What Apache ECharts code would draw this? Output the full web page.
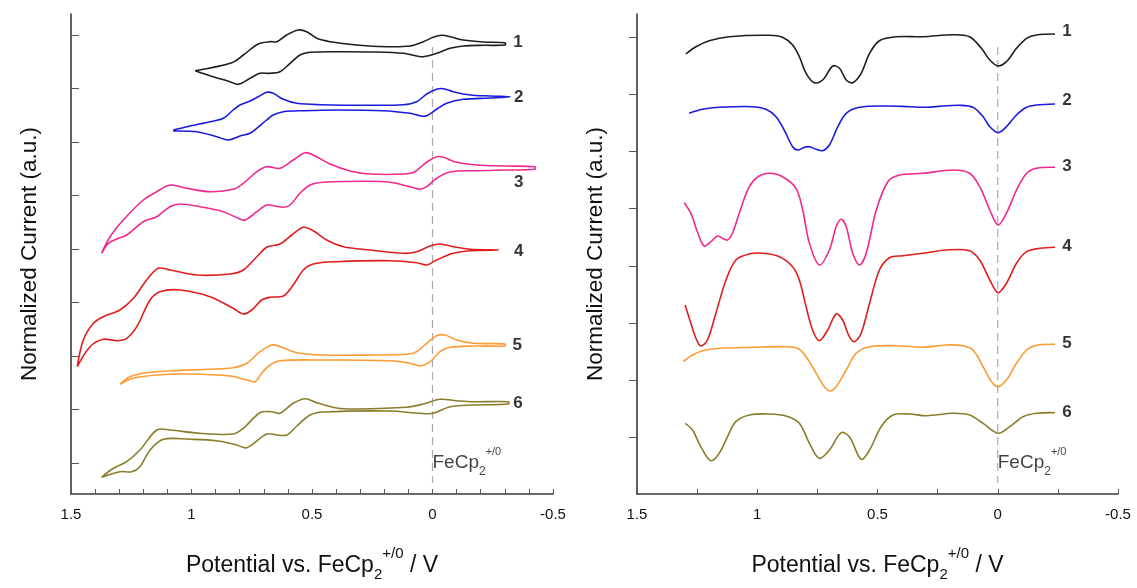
<!DOCTYPE html>
<html>
<head>
<meta charset="utf-8">
<script src="https://cdn.jsdelivr.net/npm/echarts@6/dist/echarts.min.js"></script>
<style>
  html, body { margin: 0; padding: 0; background: #fff; }
  #chart { width: 1137px; height: 588px; }
</style>
</head>
<body>
<div id="chart"></div>
<script>
// Cyclic voltammograms (potential in V vs FeCp2+/0, current in a.u., stacked with offsets).
// Each loop is listed in scan order: forward branch, then return branch.
const cv1 = [[0.985,423.3],[0.833,431.3],[0.785,439],[0.723,450],[0.674,452.3],[0.646,452.3],[0.605,459],[0.557,464],[0.522,462.3],[0.480,455.7],[0.425,452.3],[0.315,449],[0.190,447.3],[0.093,448],[0.038,452.3],[-0.003,456.7],[-0.038,458.7],[-0.073,457.3],[-0.128,454],[-0.211,452],[-0.301,451.3],
  [-0.301,449],[-0.211,448.7],[-0.128,448],[-0.073,445.7],[-0.017,440.7],[0.038,437.3],[0.066,438],[0.121,440.7],[0.232,442],[0.398,442.3],[0.508,441.7],[0.550,439],[0.591,430.7],[0.633,422.3],[0.674,420.7],[0.716,420.7],[0.757,415.7],[0.806,409.7],[0.840,412.3],[0.910,417.3],[0.985,423.3]];

const cv2 = [[1.076,364],[1.006,368],[0.923,372.3],[0.868,375.7],[0.827,384],[0.799,389],[0.757,393],[0.723,397.3],[0.688,401.7],[0.661,400.7],[0.619,394.7],[0.563,390.7],[0.467,389.3],[0.259,388.7],[0.121,389.3],[0.066,392.3],[0.024,400],[-0.017,404.7],[-0.045,405.3],[-0.086,402.3],[-0.156,399],[-0.239,398],[-0.322,397.3],
  [-0.239,396],[-0.128,394.7],[-0.059,390.7],[-0.017,384.7],[0.024,378.3],[0.045,378],[0.093,380.7],[0.204,383.3],[0.398,384],[0.536,383.3],[0.619,382.3],[0.661,379],[0.688,374],[0.729,365.7],[0.757,360.7],[0.799,358],[0.847,354],[0.895,357.3],[0.978,362.3],[1.076,363]];

const cv3 = [[1.373,240.7],[1.338,257.3],[1.283,274],[1.200,294],[1.144,302.3],[1.089,309],[1.020,305.7],[0.923,302.3],[0.827,304.7],[0.785,310.7],[0.729,322.3],[0.688,327.3],[0.633,325.7],[0.578,334],[0.529,341.3],[0.495,339],[0.425,330],[0.342,323],[0.259,320],[0.121,320],[0.073,322.3],[0.031,330.7],[-0.017,337.3],[-0.045,336.7],[-0.100,331.7],[-0.183,329],[-0.308,328],[-0.425,327.3],
  [-0.425,324.7],[-0.308,324],[-0.183,323.3],[-0.073,322],[-0.017,315.7],[0.024,307.3],[0.052,304.7],[0.093,307.3],[0.176,311.7],[0.259,312.7],[0.453,311.7],[0.508,309],[0.550,300.7],[0.591,289],[0.619,286.7],[0.654,288],[0.688,289],[0.729,282.3],[0.778,274],[0.806,275.7],[0.868,282.3],[0.965,287.3],[1.048,290],[1.089,287.3],[1.144,277.3],[1.200,272.3],[1.269,259],[1.310,255],[1.345,250.7],[1.373,240.7]];

const cv4 = [[1.474,127.3],[1.449,154],[1.407,170.7],[1.366,177.3],[1.297,184],[1.241,195.7],[1.186,214],[1.138,225.7],[1.089,224],[0.978,219],[0.840,220],[0.785,224],[0.729,237.3],[0.688,246.7],[0.633,250],[0.584,259],[0.536,266.7],[0.495,263.3],[0.439,254],[0.370,247.3],[0.259,244],[0.121,240.7],[0.066,242.3],[0.010,248],[-0.031,250],[-0.086,247.3],[-0.156,244.7],[-0.273,244],
  [-0.156,243.3],[-0.086,240.7],[-0.017,234],[0.024,229],[0.066,231.3],[0.176,233.3],[0.398,232.3],[0.495,230],[0.536,224],[0.578,209],[0.619,198],[0.674,196.7],[0.709,194],[0.750,184],[0.785,180],[0.827,185.7],[0.923,197.3],[1.048,204],[1.131,202.3],[1.172,194],[1.227,167.3],[1.269,155.7],[1.310,153.3],[1.366,154.7],[1.421,147.3],[1.474,127.3]];

const cv5 = [[1.297,109.7],[1.255,117.3],[1.186,121.3],[1.076,123.3],[0.937,124.7],[0.827,126.3],[0.771,130.7],[0.716,142.3],[0.667,149],[0.633,147.3],[0.563,141.3],[0.453,139],[0.246,139],[0.107,139.7],[0.066,142.3],[0.024,150.7],[-0.017,158.3],[-0.052,159],[-0.100,154],[-0.169,150.7],[-0.301,150],
  [-0.301,148],[-0.169,148],[-0.073,146.7],[-0.031,142.3],[0.010,132.3],[0.052,128],[0.093,130.7],[0.176,133.3],[0.453,134],[0.633,133.3],[0.674,129],[0.709,120.7],[0.737,112.3],[0.771,114],[0.840,118],[1.006,120],[1.144,119],[1.241,115.7],[1.297,109.7]];

const cv6 = [[1.373,16.7],[1.324,25.7],[1.269,32.3],[1.214,44],[1.144,64],[1.089,64],[0.965,60.7],[0.827,60],[0.785,65.7],[0.716,81.3],[0.667,82.3],[0.633,80.7],[0.578,90.7],[0.529,95.3],[0.480,91.3],[0.398,86],[0.315,85],[0.107,86.7],[0.038,90],[-0.031,94.7],[-0.100,93.3],[-0.169,92.3],[-0.315,92.3],
  [-0.315,90],[-0.169,89],[-0.073,87.3],[-0.003,80.7],[0.052,80.7],[0.176,83],[0.453,82],[0.508,79],[0.563,68],[0.605,59],[0.646,59],[0.688,60],[0.771,46.3],[0.812,49],[0.895,53.3],[1.006,54.7],[1.117,54.7],[1.172,44],[1.214,27.3],[1.248,22.3],[1.297,22.3],[1.373,16.7]];

// Differential pulse voltammograms, same compounds, same units.
const dpv1 = [[1.297,440],[1.255,447.3],[1.200,453.3],[1.117,457.3],[0.950,458.7],[0.895,456.7],[0.853,449],[0.825,437.3],[0.797,420.7],[0.763,411.3],[0.728,414],[0.686,428],[0.658,425.7],[0.630,414],[0.603,411.3],[0.568,420.7],[0.533,440.7],[0.492,453.3],[0.422,457.3],[0.311,457.3],[0.186,459.3],[0.117,457.3],[0.068,445.7],[0.033,434],[-0.001,428],[-0.036,432.3],[-0.078,445.7],[-0.120,455.7],[-0.161,459],[-0.238,460]];

const dpv2 = [[1.283,380.7],[1.228,384.7],[1.158,386.7],[1.019,387.3],[0.964,384.7],[0.922,377.3],[0.888,364],[0.853,347.3],[0.832,344],[0.804,346.7],[0.783,347.3],[0.755,344.7],[0.728,343.3],[0.700,349],[0.665,367.3],[0.630,380.7],[0.575,386.7],[0.464,388],[0.367,387.3],[0.297,386.7],[0.228,388],[0.158,388.7],[0.103,386.7],[0.061,377.3],[0.033,367.3],[-0.001,361.3],[-0.036,367.3],[-0.078,379],[-0.120,386.7],[-0.161,389],[-0.238,390]];

const dpv3 = [[1.304,291.3],[1.276,280.7],[1.249,262.3],[1.221,248],[1.193,252.3],[1.165,258],[1.145,255.7],[1.124,254],[1.103,260.7],[1.075,280.7],[1.033,307.3],[0.992,318],[0.950,320.7],[0.895,317.3],[0.839,305.7],[0.811,284],[0.783,250.7],[0.742,229],[0.700,244],[0.672,267.3],[0.651,274.7],[0.630,267.3],[0.603,240.7],[0.575,229],[0.547,240.7],[0.505,284],[0.457,312.3],[0.408,319],[0.311,320.7],[0.186,324],[0.117,320.7],[0.075,307.3],[0.033,284],[-0.001,269],[-0.036,280.7],[-0.078,304],[-0.120,320.7],[-0.161,325.7],[-0.238,326.7]];

const dpv4 = [[1.300,189],[1.276,170.7],[1.255,155.7],[1.235,148],[1.207,154],[1.172,180.7],[1.130,214],[1.089,234],[1.033,240],[0.978,240.7],[0.908,237.3],[0.853,227.3],[0.825,214],[0.797,187.3],[0.770,164],[0.742,153.3],[0.707,164],[0.672,180],[0.645,174],[0.617,157.3],[0.596,152.3],[0.568,160.7],[0.533,190.7],[0.492,224],[0.450,236.3],[0.395,238.3],[0.311,240.7],[0.214,244],[0.117,243.3],[0.075,234],[0.033,214],[-0.001,201.3],[-0.036,210.7],[-0.078,230.7],[-0.120,242.3],[-0.175,245.7],[-0.238,246.7]];

const dpv5 = [[1.308,132.3],[1.269,139],[1.228,143.3],[1.158,145.7],[1.019,146.7],[0.880,147.3],[0.832,145.7],[0.797,137.3],[0.755,120.7],[0.721,107.3],[0.697,103],[0.672,107.3],[0.630,124],[0.589,140.7],[0.533,147.3],[0.422,148.3],[0.311,146.7],[0.214,149],[0.145,148.3],[0.103,144],[0.061,127.3],[0.026,112.3],[-0.001,107.3],[-0.036,114],[-0.078,130.7],[-0.120,144],[-0.161,148.7],[-0.238,149.7]];

const dpv6 = [[1.300,70.7],[1.269,64],[1.235,47.3],[1.193,33.3],[1.158,40.7],[1.117,60.7],[1.089,72.3],[1.033,79],[0.950,80],[0.880,78],[0.825,70.7],[0.783,50.7],[0.742,35.7],[0.700,44],[0.651,61.3],[0.617,57.3],[0.568,34.7],[0.533,44],[0.485,67.3],[0.436,79],[0.367,80],[0.297,78.3],[0.186,80.7],[0.117,79],[0.061,70.7],[-0.001,60.7],[-0.050,67.3],[-0.105,77.3],[-0.161,80.7],[-0.238,81.3]];

const compoundNames = ['1', '2', '3', '4', '5', '6'];

// Where each compound number sits in each panel [potential, current]
const cvTagAnchors = [[-0.355,451.3],[-0.358,397],[-0.358,311.3],[-0.358,243],[-0.352,149],[-0.355,91]];
const dpvTagAnchors = [[-0.288,463],[-0.288,394],[-0.288,328],[-0.288,248],[-0.288,151],[-0.288,82]];

// Ferrocene reference line at 0 V and its caption
const refLineSpan = [447, 11];
const refCaptionLevel = 32;

// Axis ticks
const potentialLabels = [1.5, 1, 0.5, 0, -0.5];
const cvPotentialTicks = [1.5,1.4,1.3,1.2,1.1,1.0,0.9,0.8,0.7,0.6,0.5,0.4,0.3,0.2,0.1,0,-0.1,-0.2,-0.3,-0.4,-0.5];
const dpvPotentialTicks = [1.5,1.25,1.0,0.75,0.5,0.25,0,-0.25,-0.5];
const cvCurrentTicks = [31,84.5,138,191.5,245,298.5,352,405.5,459];
const dpvCurrentTicks = [57,114,171,228,286,343,400,457];

const curveColors = ['#1e1e1e', '#1b1bdc', '#f2288e', '#e01e1e', '#ff9a33', '#8a7c2a'];
const FONT = '"Liberation Sans", Arial, Helvetica, sans-serif';
const INK = '#111111';

const chart = echarts.init(document.getElementById('chart'), null, { renderer: 'canvas' });

const titleRich = {
  t: { fontSize: 23, fontFamily: FONT, color: INK, padding: [0, 0, 5, 0], verticalAlign: 'bottom' },
  sub: { fontSize: 15, fontFamily: FONT, color: INK, verticalAlign: 'bottom' },
  sup: { fontSize: 15, fontFamily: FONT, color: INK, padding: [0, 0, 21, 0], verticalAlign: 'bottom' }
};

function potentialAxis(gridIndex, ticks) {
  return {
    type: 'value', gridIndex, min: -0.5, max: 1.5, inverse: true,
    name: '{t|Potential vs. FeCp}{sub|2}{sup|+/0}{t| / V}',
    nameLocation: 'middle', nameGap: 52,
    nameTextStyle: { rich: titleRich },
    axisLine: { show: true, onZero: false, lineStyle: { color: '#3a3a3a', width: 1.6 } },
    axisTick: { show: true, inside: true, length: 5, customValues: ticks, lineStyle: { color: '#555', width: 1 } },
    axisLabel: { show: true, customValues: potentialLabels, margin: 13, fontSize: 15, fontFamily: FONT, color: INK,
      formatter: v => String(v) },
    splitLine: { show: false }
  };
}

function currentAxis(gridIndex, ticks, inside) {
  return {
    type: 'value', gridIndex, min: 0, max: 480,
    name: 'Normalized Current (a.u.)', nameLocation: 'middle', nameRotate: 90, nameGap: 30,
    nameTextStyle: { fontSize: 22.5, fontFamily: FONT, color: INK },
    axisLine: { show: true, onZero: false, lineStyle: { color: '#3a3a3a', width: 1.6 } },
    axisTick: { show: true, inside, length: 8, customValues: ticks, lineStyle: { color: '#555', width: 1 } },
    axisLabel: { show: false },
    splitLine: { show: false }
  };
}

// Each trace is one smooth polyline through its own samples, placed with the axes' coordinate system.
function curveSeries(data, idx, axisIndex) {
  return {
    type: 'custom', xAxisIndex: axisIndex, yAxisIndex: axisIndex, silent: true, z: 3,
    data, encode: { x: 0, y: 1 },
    renderItem: (params, api) => {
      if (params.dataIndex !== 0) return null;
      const points = data.map(d => api.coord(d));
      return {
        type: 'polyline',
        shape: { points, smooth: 0.33 },
        style: { fill: 'none', stroke: curveColors[idx], lineWidth: 1.6, lineJoin: 'round' }
      };
    }
  };
}

function tagSeries(anchors, axisIndex) {
  return {
    type: 'scatter', xAxisIndex: axisIndex, yAxisIndex: axisIndex, symbolSize: 0, silent: true,
    data: anchors.map((p, i) => ({ value: p, name: compoundNames[i] })),
    label: { show: true, position: 'inside', formatter: '{b}', fontSize: 17, fontWeight: 'bold', fontFamily: FONT, color: '#000' },
    z: 5
  };
}

function refLineSeries(axisIndex) {
  return {
    type: 'line', xAxisIndex: axisIndex, yAxisIndex: axisIndex, silent: true,
    data: [[0, refLineSpan[0]], [0, refLineSpan[1]]], showSymbol: false, symbol: 'none',
    lineStyle: { color: '#a8a8a8', width: 1.2, type: [8, 5] }, z: 1
  };
}

function refCaptionSeries(axisIndex) {
  return {
    type: 'scatter', xAxisIndex: axisIndex, yAxisIndex: axisIndex, symbolSize: 0, silent: true,
    data: [[0, refCaptionLevel]],
    label: {
      show: true, position: 'right', distance: 0,
      formatter: '{t|FeCp}{sub|2}{sup|+/0}',
      rich: {
        t: { fontSize: 19, fontFamily: FONT, color: INK, padding: [0, 0, 5, 0], verticalAlign: 'bottom' },
        sub: { fontSize: 12, fontFamily: FONT, color: INK, verticalAlign: 'bottom' },
        sup: { fontSize: 11, fontFamily: FONT, color: INK, padding: [0, 0, 20, 0], verticalAlign: 'bottom' }
      }
    },
    z: 5
  };
}

const series = [];
[cv1, cv2, cv3, cv4, cv5, cv6].forEach((d, i) => series.push(curveSeries(d, i, 0)));
[dpv1, dpv2, dpv3, dpv4, dpv5, dpv6].forEach((d, i) => series.push(curveSeries(d, i, 1)));
series.push(refLineSeries(0), refLineSeries(1));
series.push(tagSeries(cvTagAnchors, 0), tagSeries(dpvTagAnchors, 1));
series.push(refCaptionSeries(0), refCaptionSeries(1));

chart.setOption({
  animation: false,
  backgroundColor: '#ffffff',
  grid: [
    { left: 71, top: 14, width: 482, height: 480 },
    { left: 637, top: 14, width: 481, height: 480 }
  ],
  xAxis: [potentialAxis(0, cvPotentialTicks), potentialAxis(1, dpvPotentialTicks)],
  yAxis: [currentAxis(0, cvCurrentTicks, true), currentAxis(1, dpvCurrentTicks, false)],
  series
});
</script>
</body>
</html>
